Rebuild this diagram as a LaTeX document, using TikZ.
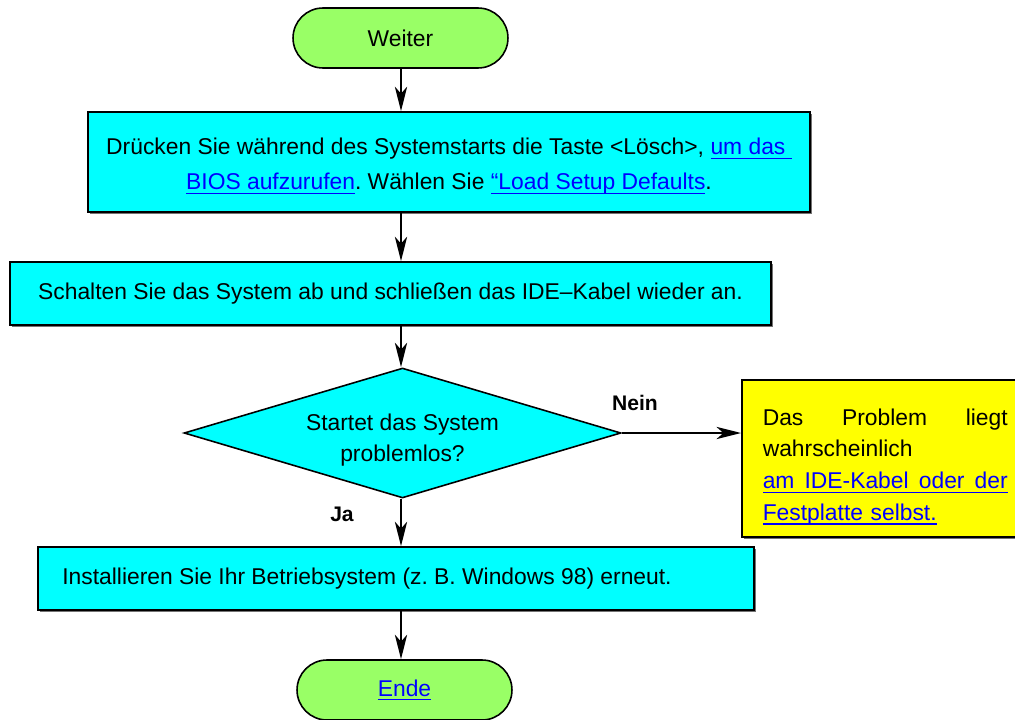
\documentclass[tikz,border=0pt]{standalone}
\usepackage{fontspec}
\setmainfont{Liberation Sans}
\usepackage{tikz}
\usetikzlibrary{positioning,arrows.meta,shapes,shadows,calc}

\definecolor{termgreen}{RGB}{153,255,102}
\definecolor{boxcyan}{RGB}{0,255,255}
\definecolor{noteyellow}{RGB}{255,255,0}
\definecolor{linkblue}{RGB}{0,0,255}
\newcommand{\lnk}[1]{\textcolor{linkblue}{\setbox0\hbox{#1}\rlap{\rule[-2.3pt]{\wd0}{0.7pt}}\box0}}
\frenchspacing

\begin{document}
\begin{tikzpicture}[
    x=0.02cm, y=-0.02cm,
    font=\fontsize{13}{20}\selectfont,
    term/.style={rounded rectangle, draw=black, line width=0.9pt, fill=termgreen, minimum width=4.3cm, minimum height=1.2cm, inner sep=0pt},
    box/.style={rectangle, draw=black, line width=0.9pt, fill=boxcyan, minimum height=1.26cm, align=center, inner sep=0pt,
        drop shadow={shadow xshift=0.035cm, shadow yshift=-0.035cm, fill=black!55, opacity=1}},
    decide/.style={diamond, draw=black, line width=0.9pt, fill=boxcyan, aspect=3.36, minimum width=8.74cm, minimum height=2.6cm, inner sep=0pt, align=center, font=\fontsize{13}{17.6}\selectfont},
    note/.style={rectangle, draw=black, line width=0.9pt, fill=noteyellow, minimum height=3.14cm, inner xsep=0.42cm, text width=4.9cm, align=left, font=\fontsize{13}{18.1}\selectfont,
        drop shadow={shadow xshift=0.035cm, shadow yshift=-0.035cm, fill=black!55, opacity=1}},
    arrow/.style={-{Stealth[length=14pt, width=7pt, inset=4pt]}, line width=0.85pt, black},
    answer/.style={font=\fontsize{12}{14}\selectfont\bfseries},
]
    \useasboundingbox (0,0) rectangle (1015,720);
    \coordinate (axis) at (401,0);

    % Main flow
    \node[term] (weiter) at (400.5,38) {Weiter};
    \node[box, minimum width=14.44cm, minimum height=2.0cm, font=\fontsize{13}{19.8}\selectfont] (bios) at (449,162)
        {\rule{0pt}{14.5pt}Drücken Sie während des Systemstarts die Taste <Lösch>, \lnk{um das }\\
         \lnk{BIOS aufzurufen}. Wählen Sie \lnk{“Load Setup Defaults}.};
    \node[box, minimum width=15.22cm] (kabel) at (390.5,293.5)
        {Schalten Sie das System ab und schließen das IDE–Kabel wieder an.};
    \node[decide] (startet) at (402.5,433) {\rule{0pt}{17pt}Startet das System\\problemlos?};
    \node[box, minimum width=14.32cm] (install) at (396,578.5)
        {Installieren Sie Ihr Betriebsystem (z. B. Windows 98) erneut.\hspace*{1.16cm}};
    \node[term] (ende) at (404.5,690) {\lnk{Ende}};

    % Side branch
    \node[note, anchor=west] (problem) at (741,458.5)
        {\rule{0pt}{19pt}\hbox to 4.9cm{Das\hfill Problem\hfill liegt}\\
         wahrscheinlich\\
         \lnk{\hbox to 4.9cm{am\hfill IDE-Kabel\hfill oder\hfill der}}\\
         \lnk{Festplatte selbst.}};

    % Arrows
    \draw[arrow] (weiter.south -| axis) -- (bios.north -| axis);
    \draw[arrow] (bios.south -| axis) -- (kabel.north -| axis);
    \draw[arrow] (kabel.south -| axis) -- (startet.north -| axis);
    \draw[arrow] (startet.south -| axis) -- (install.north -| axis);
    \draw[arrow] (install.south -| axis) -- (ende.north -| axis);
    \draw[arrow] (startet.east) -- (startet.east -| problem.west);

    % Answers
    \node[answer] (nein) at (635,403) {Nein};
    \node[answer] (ja) at (342,514) {Ja};
\end{tikzpicture}
\end{document}
